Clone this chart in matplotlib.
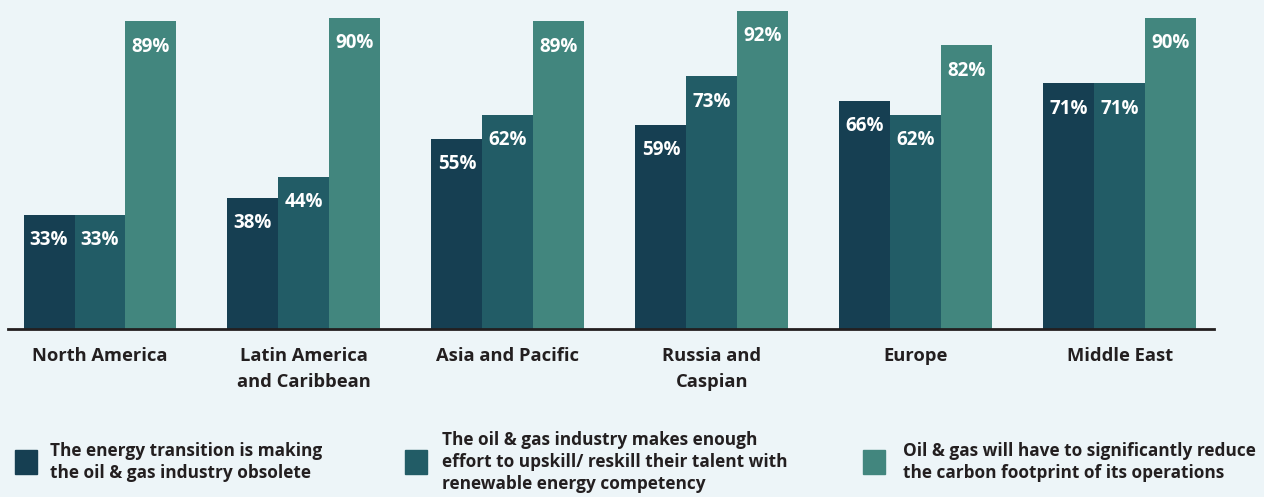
import numpy as np
import matplotlib.pyplot as plt

regions = ["North America", "Latin America\nand Caribbean", "Asia and Pacific",
           "Russia and\nCaspian", "Europe", "Middle East"]
obsolete = [33, 38, 55, 59, 66, 71]
upskill = [33, 44, 62, 73, 62, 71]
reduce_carbon = [89, 90, 89, 92, 82, 90]

series_labels = [
    "The energy transition is making\nthe oil & gas industry obsolete",
    "The oil & gas industry makes enough\neffort to upskill/ reskill their talent with\nrenewable energy competency",
    "Oil & gas will have to significantly reduce\nthe carbon footprint of its operations",
]
colors = ["#163F52", "#225C66", "#42867E"]
bg = "#EDF5F8"

plt.rcParams['font.family'] = ['Open Sans', 'DejaVu Sans']

W, H = 1264, 497
fig = plt.figure(figsize=(W / 100, H / 100), dpi=100, facecolor=bg)
ax = fig.add_axes([8 / W, 1 - 329 / H, (1214 - 8) / W, 329 / H])
ax.set_facecolor(bg)

x = np.arange(len(regions))
width = 0.25
series = [obsolete, upskill, reduce_carbon]
for k, vals in enumerate(series):
    pos = x + (k - 1) * width
    ax.bar(pos, vals, width, color=colors[k], zorder=2)
    for xp, v in zip(pos, vals):
        ax.text(xp, v - 7.4, f"{v}%", ha="center", va="center", color="white",
                fontsize=13.5, fontweight="bold")

ax.set_xlim(-0.451, 5.461)
ax.set_ylim(0, 95.1)
for s in ["top", "right", "left"]:
    ax.spines[s].set_visible(False)
ax.spines["bottom"].set_color("#231F20")
ax.spines["bottom"].set_linewidth(2)
ax.set_yticks([])
ax.set_xticks(x)
ax.set_xticklabels(regions, fontsize=13.2, fontweight="bold", color="#231F20",
                   linespacing=1.6, va="top")
ax.tick_params(axis="x", length=0, pad=13)

# legend drawn manually in figure coordinates
legend_x = [(15, 50), (405, 442), (863, 903)]
for (sx, tx), lab, c in zip(legend_x, series_labels, colors):
    fig.patches.append(plt.Rectangle((sx / W, 1 - 474 / H), 22 / W, 24 / H,
                                     transform=fig.transFigure, color=c))
    fig.text(tx / W, 1 - 462 / H, lab, ha="left", va="center", fontsize=12.4,
             fontweight="bold", color="#231F20", linespacing=1.3)

fig.savefig("out.png", dpi=100, facecolor=bg)
